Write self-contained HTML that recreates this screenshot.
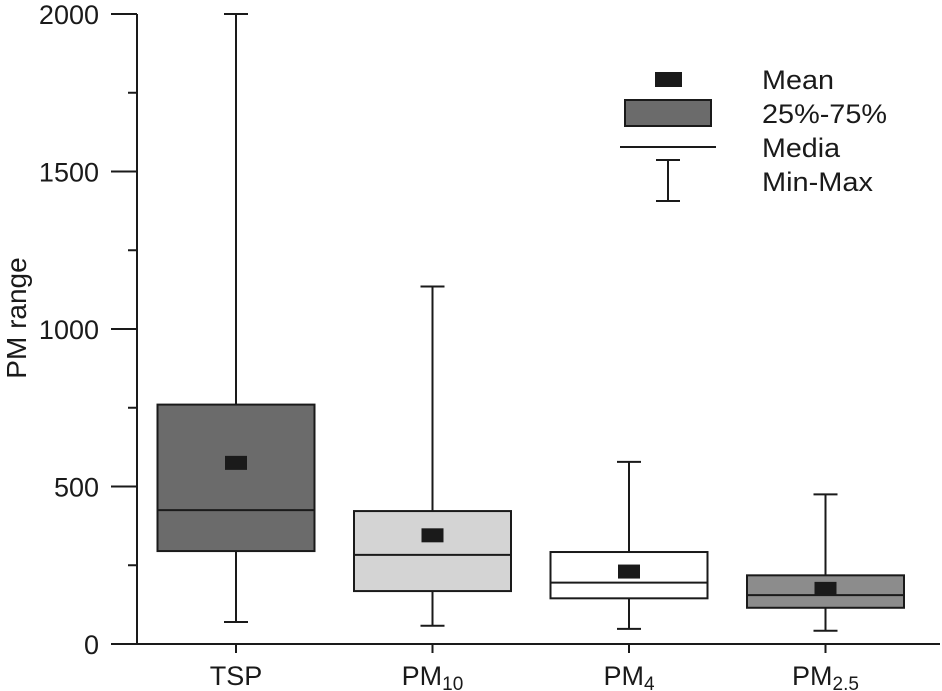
<!DOCTYPE html>
<html><head><meta charset="utf-8"><style>
body{margin:0;background:#fff}
svg{display:block;font-family:"Liberation Sans",Arial,sans-serif}
</style></head><body>
<svg id="chart" width="942" height="691" viewBox="0 0 942 691"></svg>
<script>
const categories=["TSP","PM10","PM4","PM2.5"];
const mins=[70,58,48,42];
const maxs=[2000,1135,578,475];
const q1s=[295,168,145,115];
const q3s=[760,422,292,218];
const medians=[425,283,195,155];
const means=[575,345,230,175];
const fills=["#6b6b6b","#d4d4d4","#ffffff","#8c8c8c"];
const yTicks=[0,500,1000,1500,2000];
const labelMain=["TSP","PM","PM","PM"];
const labelSub=["","10","4","2.5"];

const NS="http://www.w3.org/2000/svg";
const svg=document.getElementById('chart');
const y0=644,y1=14,x0=137;
function y(v){return y0-(v/2000)*(y0-y1);}
function xc(i){return 236+i*196.5;}
function el(t,a,p){const e=document.createElementNS(NS,t);for(const k in a)e.setAttribute(k,a[k]);(p||svg).appendChild(e);return e;}
const S={stroke:"#1a1a1a","stroke-width":2,fill:"none"};

let ax=el('line',{x1:x0,y1:y1,x2:x0,y2:y0+1,...S});


let xa=el('line',{x1:x0-1,y1:y0,x2:940,y2:y0,...S});


for(let v=0;v<=2000;v+=250){
  const major=v%500===0;
  const t=el('line',{x1:x0-(major?26:9),y1:y(v),x2:x0,y2:y(v),...S});
  
  
}
yTicks.forEach(v=>{
  const t=el('text',{x:99,y:y(v)+10,"text-anchor":"end","font-size":27,fill:"#1a1a1a"});
  t.textContent=v;
  
  
});
const yt=el('text',{x:0,y:0,"font-size":28,fill:"#1a1a1a","text-anchor":"middle",transform:"translate(26,318) rotate(-90)"});
yt.textContent="PM range";



categories.forEach((c,i)=>{
  const cx=xc(i),w=157,g=el('g',{});
  
  
  el('line',{x1:cx,y1:y0,x2:cx,y2:y0+9,...S},g);
  el('line',{x1:cx,y1:y(maxs[i]),x2:cx,y2:y(mins[i]),...S},g);
  el('line',{x1:cx-12,y1:y(maxs[i]),x2:cx+12,y2:y(maxs[i]),...S},g);
  el('line',{x1:cx-12,y1:y(mins[i]),x2:cx+12,y2:y(mins[i]),...S},g);
  el('rect',{x:cx-w/2,y:y(q3s[i]),width:w,height:y(q1s[i])-y(q3s[i]),fill:fills[i],stroke:"#1a1a1a","stroke-width":2},g);
  el('line',{x1:cx-w/2,y1:y(medians[i]),x2:cx+w/2,y2:y(medians[i]),...S},g);
  el('rect',{x:cx-11,y:y(means[i])-7,width:22,height:14,fill:"#1a1a1a"},g);
  const t=el('text',{x:cx,y:685,"text-anchor":"middle","font-size":27,fill:"#1a1a1a"});
  
  
  t.textContent=labelMain[i];
  if(labelSub[i]){const s=el('tspan',{"font-size":19,dy:5},t);s.textContent=labelSub[i];}
});

const lg=el('g',{});


el('rect',{x:655,y:72,width:27,height:15,fill:"#1a1a1a"},lg);
el('rect',{x:625,y:100,width:86,height:26,fill:"#6b6b6b",stroke:"#1a1a1a","stroke-width":2},lg);
el('line',{x1:620,y1:147,x2:716,y2:147,...S},lg);
el('line',{x1:668,y1:160,x2:668,y2:201,...S},lg);
el('line',{x1:656,y1:160,x2:680,y2:160,...S},lg);
el('line',{x1:656,y1:201,x2:680,y2:201,...S},lg);
[["Mean",89,72],["25%-75%",123,125],["Media",157,78],["Min-Max",191,111]].forEach(([s,yy,w])=>{
  const t=el('text',{x:762,y:yy,"font-size":27,fill:"#1a1a1a",textLength:w,lengthAdjust:"spacingAndGlyphs"},lg);t.textContent=s;
});
</script>
</body></html>
